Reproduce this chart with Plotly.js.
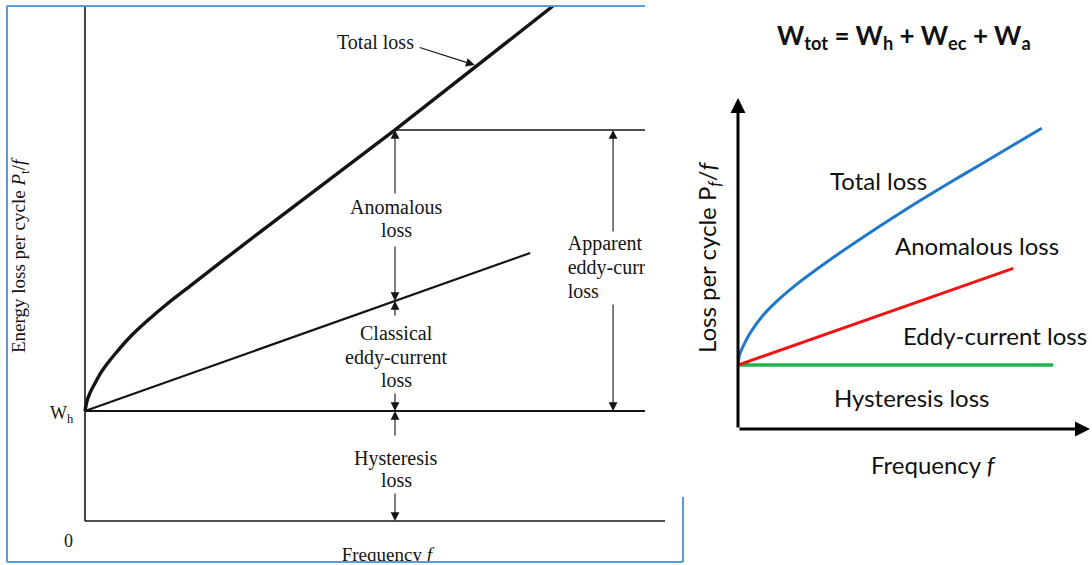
<!DOCTYPE html>
<html>
<head>
<meta charset="utf-8">
<script src="https://cdn.plot.ly/plotly-3.0.1.min.js"></script>
<style>
  html, body { margin: 0; padding: 0; background: #ffffff; }
  #chart { width: 1092px; height: 565px; }
</style>
</head>
<body>
<div id="chart"></div>
<script>
// ---- Left panel: loss separation (frequency units, loss units with W_h = 1) ----
const leftFreq      = [0, 0.036, 0.089, 0.161, 0.268, 0.393, 0.536, 0.804, 1.107, 1.464, 1.875, 3.125, 5.536, 8.357];
const leftTotal     = [1.0, 1.091, 1.164, 1.236, 1.336, 1.427, 1.518, 1.673, 1.818, 1.973, 2.136, 2.627, 3.555, 4.682];
const leftEddyFreq  = [0, 7.95];
const leftEddy      = [1.0, 2.436];
const leftHystFreq  = [0, 10];
const leftHyst      = [1.0, 1.0];
const leftApparFreq = [5.536, 10];
const leftAppar     = [3.555, 3.555];
const leftAxisTop   = 4.682;

// dimension arrows: [tail, head] in loss units
const arrowColumnF  = 5.536;
const arrowSpans    = [[2.964, 3.555], [2.509, 2.0], [1.855, 2.0], [1.173, 1.0], [0.764, 1.0], [0.264, 0]];
const apparentF     = 9.43;
const apparentSpans = [[2.618, 3.555], [1.982, 1.0]];

// ---- Right panel: W_tot = W_h + W_ec + W_a ----
const rightFreq     = [0, 0.05, 0.166, 0.375, 0.79, 1.31, 1.83, 2.875, 3.92, 4.96, 6.0, 7.04, 8.08, 9.49];
const rightTotal    = [2.0, 2.33, 2.6, 2.99, 3.56, 4.08, 4.52, 5.29, 6.0, 6.68, 7.33, 7.95, 8.56, 9.40];
const rightEddyFreq = [0, 8.6];
const rightEddy     = [2.0, 5.02];
const rightHystFreq = [0, 9.85];
const rightHyst     = [2.0, 2.0];

const W = 1092, H = 565;
const px = x => x / W;
const py = y => 1 - y / H;

const SERIF = 'Liberation Serif, Times New Roman, serif';
const SANS = 'Lato, Open Sans, sans-serif';
const INK = '#141414';

const traces = [
  // left axis line
  { x: [0, 0], y: [0, leftAxisTop], mode: 'lines', line: { color: INK, width: 1.6 }, xaxis: 'x', yaxis: 'y', hoverinfo: 'skip' },
  { x: leftHystFreq, y: leftHyst, mode: 'lines', line: { color: INK, width: 2.2 }, xaxis: 'x', yaxis: 'y', hoverinfo: 'skip' },
  { x: leftApparFreq, y: leftAppar, mode: 'lines', line: { color: INK, width: 1.6 }, xaxis: 'x', yaxis: 'y', hoverinfo: 'skip' },
  { x: leftEddyFreq, y: leftEddy, mode: 'lines', line: { color: INK, width: 2.2 }, xaxis: 'x', yaxis: 'y', hoverinfo: 'skip' },
  { x: leftFreq, y: leftTotal, mode: 'lines', line: { color: INK, width: 3.4, shape: 'spline', smoothing: 0.6 }, xaxis: 'x', yaxis: 'y', hoverinfo: 'skip' },
  // labels clipped at the panel edge
  {
    x: [8.62, 8.62, 8.62, 5.39],
    y: [2.509, 2.291, 2.073, -0.318],
    text: ['Apparent', 'eddy-current', 'loss', 'Frequency <i>f</i>'],
    mode: 'text', textposition: ['middle right', 'middle right', 'middle right', 'middle center'],
    textfont: { family: SERIF, size: [20, 20, 20, 19], color: INK },
    cliponaxis: true, xaxis: 'x', yaxis: 'y', hoverinfo: 'skip'
  },
  // right panel curves
  { x: rightHystFreq, y: rightHyst, mode: 'lines', line: { color: '#22b24c', width: 3.6 }, xaxis: 'x2', yaxis: 'y2', hoverinfo: 'skip' },
  { x: rightEddyFreq, y: rightEddy, mode: 'lines', line: { color: '#f01515', width: 3 }, xaxis: 'x2', yaxis: 'y2', hoverinfo: 'skip' },
  { x: rightFreq, y: rightTotal, mode: 'lines', line: { color: '#1f78c8', width: 3, shape: 'spline', smoothing: 0.6 }, xaxis: 'x2', yaxis: 'y2', hoverinfo: 'skip' }
];

const annotations = [];
function label(text, x, y, opts) {
  annotations.push(Object.assign({
    text: text, x: px(x), y: py(y), xref: 'paper', yref: 'paper',
    showarrow: false, xanchor: 'center', yanchor: 'middle',
    font: { family: SERIF, size: 20, color: INK }
  }, opts || {}));
}
function arrow(xref, yref, x, tail, head, opts) {
  annotations.push(Object.assign({
    text: '', x: x, y: head, ax: x, ay: tail, xref: xref, yref: yref, axref: xref, ayref: yref,
    showarrow: true, arrowhead: 2, arrowsize: 1.6, arrowwidth: 1.1, arrowcolor: INK
  }, opts || {}));
}

// left panel texts
label('Total loss', 375, 42);
label('Anomalous', 396, 207);
label('loss', 396, 230);
label('Classical', 396, 333);
label('eddy-current', 396, 357);
label('loss', 396, 380);
label('Hysteresis', 396, 458);
label('loss', 396, 480);
label('W<sub>h</sub>', 76, 414, { xanchor: 'right', font: { family: SERIF, size: 18, color: INK } });
label('0', 68, 541, { font: { family: SERIF, size: 18, color: INK } });
label('Energy loss per cycle <i>P</i><sub>t</sub>/<i>f</i>', 20, 255, { textangle: -90, font: { family: SERIF, size: 19, color: INK } });

// left dimension arrows
arrowSpans.forEach(s => arrow('x', 'y', arrowColumnF, s[0], s[1]));
apparentSpans.forEach(s => arrow('x', 'y', apparentF, s[0], s[1]));
// pointer to the total-loss curve
annotations.push({
  text: '', x: 6.96, y: 4.145, ax: 5.95, ay: 4.309, xref: 'x', yref: 'y', axref: 'x', ayref: 'y',
  showarrow: true, arrowhead: 2, arrowsize: 1.6, arrowwidth: 1.1, arrowcolor: INK
});

// right panel texts
const SANSF = size => ({ family: SANS, size: size, color: '#111111' });
label('<b>W<sub>tot</sub> = W<sub>h</sub> + W<sub>ec</sub> + W<sub>a</sub></b>', 904, 36, { font: SANSF(26) });
label('Total loss', 878, 180, { font: SANSF(24) });
label('Anomalous loss', 977, 245, { font: SANSF(24) });
label('Eddy-current loss', 995, 335, { font: SANSF(24) });
label('Hysteresis loss', 911, 397, { font: SANSF(24) });
label('Frequency <i>f</i>', 933, 465, { font: SANSF(24) });
label('Loss per cycle P<sub><i>f</i></sub>/<i>f</i>', 708, 257, { textangle: -90, font: SANSF(24) });

// right panel axes with arrowheads
arrow('x2', 'y2', 0, 0, 331 / 32, { arrowwidth: 3, arrowsize: 1, arrowcolor: '#000000' });
annotations.push({
  text: '', x: 11.0, y: 0, ax: 0, ay: 0, xref: 'x2', yref: 'y2', axref: 'x2', ayref: 'y2',
  showarrow: true, arrowhead: 2, arrowsize: 1, arrowwidth: 3, arrowcolor: '#000000'
});

const FRAME = '#5b9bd5';
const shapes = [
  // bottom axis line of the left panel
  { type: 'line', xref: 'paper', yref: 'paper', x0: px(85), x1: px(665), y0: py(521), y1: py(521), line: { color: INK, width: 1.6 } },
  // blue frame around the left panel
  { type: 'line', xref: 'paper', yref: 'paper', x0: px(7), x1: px(645), y0: py(6), y1: py(6), line: { color: FRAME, width: 2 } },
  { type: 'line', xref: 'paper', yref: 'paper', x0: px(7), x1: px(7), y0: py(6), y1: py(562), line: { color: FRAME, width: 2 } },
  { type: 'line', xref: 'paper', yref: 'paper', x0: px(7), x1: px(683), y0: py(562), y1: py(562), line: { color: FRAME, width: 2 } },
  { type: 'line', xref: 'paper', yref: 'paper', x0: px(683), x1: px(683), y0: py(497), y1: py(562), line: { color: FRAME, width: 2 } }
];

const hidden = { visible: false, fixedrange: true };
const layout = {
  width: W, height: H,
  margin: { l: 0, r: 0, t: 0, b: 0, pad: 0 },
  paper_bgcolor: '#ffffff', plot_bgcolor: 'rgba(0,0,0,0)',
  showlegend: false,
  xaxis: Object.assign({ domain: [px(7), px(645)], range: [-78 / 56, 10], anchor: 'y' }, hidden),
  yaxis: Object.assign({ domain: [py(562), py(6)], range: [-41 / 110, 515 / 110], anchor: 'x' }, hidden),
  xaxis2: Object.assign({ domain: [px(738), 1], range: [0, 354 / 32], anchor: 'y2' }, hidden),
  yaxis2: Object.assign({ domain: [py(429), py(98)], range: [0, 331 / 32], anchor: 'x2' }, hidden),
  annotations: annotations,
  shapes: shapes
};

Plotly.newPlot('chart', traces, layout, { displayModeBar: false, staticPlot: true });
</script>
</body>
</html>
